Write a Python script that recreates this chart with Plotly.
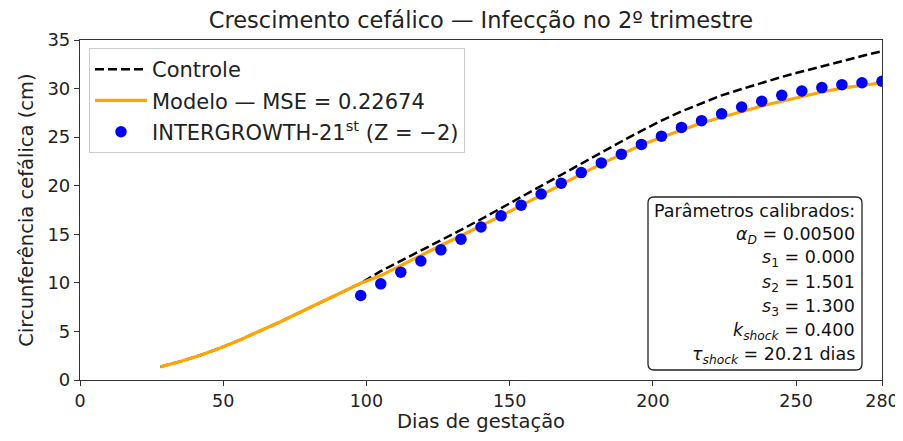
import plotly.graph_objects as go

# ---- data ----
days_model = [28, 35, 42, 49, 56, 63, 70, 77, 84, 91, 98, 105, 112, 119, 126, 133, 140, 147,
              154, 161, 168, 175, 182, 189, 196, 203, 210, 217, 224, 231, 238, 245, 252,
              259, 266, 273, 280]
controle = [1.35, 1.9, 2.55, 3.3, 4.15, 5.05, 6.0, 7.0, 8.0, 8.95, 9.95, 11.2, 12.25, 13.3,
            14.4, 15.45, 16.55, 17.7, 18.85, 20.0, 21.15, 22.3, 23.45, 24.55, 25.65, 26.7,
            27.65, 28.5, 29.3, 29.95, 30.6, 31.2, 31.75, 32.3, 32.85, 33.35, 33.85]
modelo = [1.35, 1.9, 2.55, 3.3, 4.15, 5.05, 6.0, 7.0, 8.0, 8.95, 9.95, 10.75, 11.8, 12.85,
          13.85, 14.85, 15.85, 16.9, 17.95, 19.05, 20.15, 21.2, 22.25, 23.25, 24.2, 25.0,
          25.75, 26.45, 27.05, 27.65, 28.2, 28.7, 29.2, 29.65, 30.05, 30.35, 30.6]
days_ig = [98, 105, 112, 119, 126, 133, 140, 147, 154, 161, 168, 175, 182, 189, 196, 203,
           210, 217, 224, 231, 238, 245, 252, 259, 266, 273, 280]
intergrowth = [8.7, 9.9, 11.1, 12.25, 13.4, 14.5, 15.75, 16.9, 18.0, 19.15, 20.25, 21.35,
               22.35, 23.25, 24.25, 25.1, 26.0, 26.7, 27.4, 28.1, 28.7, 29.3, 29.75, 30.1,
               30.4, 30.6, 30.75]
x_ticks = [0, 50, 100, 150, 200, 250, 280]
y_ticks = [0, 5, 10, 15, 20, 25, 30, 35]
param_lines = [
    "Parâmetros calibrados:",
    "<i>α</i><sub><i>D</i></sub> = 0.00500",
    "<i>s</i><sub>1</sub> = 0.000",
    "<i>s</i><sub>2</sub> = 1.501",
    "<i>s</i><sub>3</sub> = 1.300",
    "<i>k</i><sub><i>shock</i></sub> = 0.400",
    "<i>τ</i><sub><i>shock</i></sub> = 20.21 dias",
]

FONT = "DejaVu Sans"
OFF = 8  # default page body margin in the html page
W, H = 903 - OFF, 441 - 2 * OFF
# plot area in window pixels: x 80..882, y 40..380
L, R, T = 80 - OFF, 903 - 882, 40 - OFF
B = H + OFF - 380
PW, PH = W - L - R, H - T - B


def px_x(px):  # window pixel -> paper x
    return (px - 80) / PW


def px_y(py):  # window pixel -> paper y
    return (380 - py) / PH


fig = go.Figure()
fig.add_trace(go.Scatter(x=days_model, y=controle, mode="lines", name="Controle",
                         legendgroup="a",
                         line=dict(color="black", width=2.5, dash="9px,4px")))
fig.add_trace(go.Scatter(x=days_model, y=modelo, mode="lines",
                         name="Modelo — MSE = 0.22674", legendgroup="b",
                         line=dict(color="#FFA500", width=3.2)))
fig.add_trace(go.Scatter(x=days_ig, y=intergrowth, mode="markers",
                         name="INTERGROWTH-21<sup>st</sup> (Z = −2)", legendgroup="c",
                         marker=dict(color="#0000FF", size=11.5)))

fig.update_layout(
    width=W, height=H,
    margin=dict(l=L, r=R, t=T, b=B),
    paper_bgcolor="white", plot_bgcolor="white",
    font=dict(family=FONT, size=18, color="#222"),
    title=dict(text="Crescimento cefálico — Infecção no 2º trimestre",
               x=(481 - OFF) / W, xanchor="center", y=1 - (20 - OFF) / H, yanchor="middle",
               font=dict(size=22.5, color="#222")),
    showlegend=True,
    legend=dict(x=px_x(89), y=px_y(48), xanchor="left", yanchor="top",
                bgcolor="rgba(255,255,255,0.85)", bordercolor="#CCCCCC", borderwidth=1,
                font=dict(size=21, color="#222"), tracegroupgap=1, itemwidth=52),
    xaxis=dict(range=[0, 280], tickvals=x_ticks, ticktext=[str(t) for t in x_ticks],
               showgrid=False, zeroline=False, showline=True, mirror=True,
               linecolor="#333", linewidth=1.2, ticks="outside", ticklen=5,
               tickcolor="#333", tickfont=dict(size=17.5), automargin=False,
               ticklabeloverflow="allow",
               title=dict(text="Dias de gestação", font=dict(size=19.5), standoff=6)),
    yaxis=dict(range=[0, 35], tickvals=y_ticks, showgrid=False, zeroline=False,
               showline=True, mirror=True, linecolor="#333", linewidth=1.2,
               ticks="outside", ticklen=5, tickcolor="#333", tickfont=dict(size=18),
               automargin=False, ticklabeloverflow="allow",
               title=dict(text="Circunferência cefálica (cm)", font=dict(size=19.5),
                          standoff=8)),
)

# rounded parameter box
x0, x1 = px_x(648), px_x(862)
y0, y1 = px_y(370), px_y(197)
rx, ry = 6 / PW, 6 / PH
path = (f"M {x0+rx},{y0} L {x1-rx},{y0} Q {x1},{y0} {x1},{y0+ry} "
        f"L {x1},{y1-ry} Q {x1},{y1} {x1-rx},{y1} L {x0+rx},{y1} "
        f"Q {x0},{y1} {x0},{y1-ry} L {x0},{y0+ry} Q {x0},{y0} {x0+rx},{y0} Z")
fig.add_shape(type="path", path=path, xref="paper", yref="paper",
              line=dict(color="#222", width=1.3), fillcolor="white", layer="above")

line_py = [211, 235, 259, 283, 307, 331, 355]
for txt, py in zip(param_lines, line_py):
    fig.add_annotation(text=txt, xref="paper", yref="paper", x=px_x(857), y=px_y(py),
                       xanchor="right", yanchor="middle", showarrow=False,
                       font=dict(family=FONT, size=17.5, color="#111"))

fig.write_html("out.html")
